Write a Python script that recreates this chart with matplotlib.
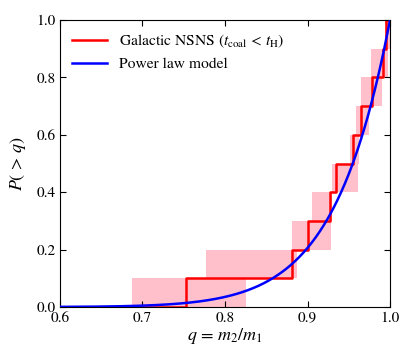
import numpy as np
import matplotlib
matplotlib.use("Agg")
import matplotlib.pyplot as plt

plt.rcParams['font.family'] = 'STIXGeneral'
plt.rcParams['mathtext.fontset'] = 'stix'
plt.rcParams['font.size'] = 11

# mass ratios of the galactic NS-NS systems (sorted) and their ranges
q_obs = [0.753, 0.881, 0.900, 0.927, 0.935, 0.9556, 0.9645, 0.978, 0.992, 0.995]
q_lo = [0.687, 0.777, 0.881, 0.906, 0.930, 0.952, 0.959, 0.965, 0.977, 0.994]
q_hi = [0.825, 0.887, 0.929, 0.930, 0.961, 0.962, 0.975, 0.990, 0.998, 1.000]

# power law model exponent, P(>q) ~ q^alpha
alpha = 15.0

x_ticks = [0.6, 0.7, 0.8, 0.9, 1.0]
y_ticks = [0.0, 0.2, 0.4, 0.6, 0.8, 1.0]

n = len(q_obs)
levels = np.arange(n + 1) / n

fig = plt.figure(figsize=(4.15, 3.63), dpi=100)
ax = fig.add_axes([60/415, 56/363, 330/415, 287/363])

# shaded ranges
lo = np.array(q_lo)
hi = np.array(q_hi)
ax.barh(levels[:-1], hi - lo, left=lo, height=1.0/n, align='edge',
        color='pink', edgecolor='none', zorder=1)

# cumulative step
xs = np.r_[0.6, q_obs, 1.0]
ys = np.r_[0.0, levels[1:], 1.0]
ax.step(xs, ys, where='post', color='red', lw=1.8, zorder=2,
        label=r'Galactic NSNS ($t_{\rm coal}\,<\,t_{\rm H}$)')

qq = np.linspace(0.6, 1.0, 400)
ax.plot(qq, qq**alpha, color='blue', lw=1.8, zorder=3, label='Power law model')

ax.set_xlim(0.6, 1.0)
ax.set_ylim(0.0, 1.0)
ax.set_xticks(x_ticks)
ax.set_yticks(y_ticks)
ax.tick_params(direction='in', top=True, right=True, length=4, width=0.8, pad=3)
ax.set_xlabel(r'$q\,=\,m_2/m_1$', fontsize=13, labelpad=1)
ax.set_ylabel(r'$P(\,>\,q)$', fontsize=13, labelpad=6)

ax.legend(loc='upper left', frameon=False, fontsize=11.2, handlelength=2.2,
          borderaxespad=0.4, handletextpad=0.8)

fig.savefig('out.png', dpi=100)
